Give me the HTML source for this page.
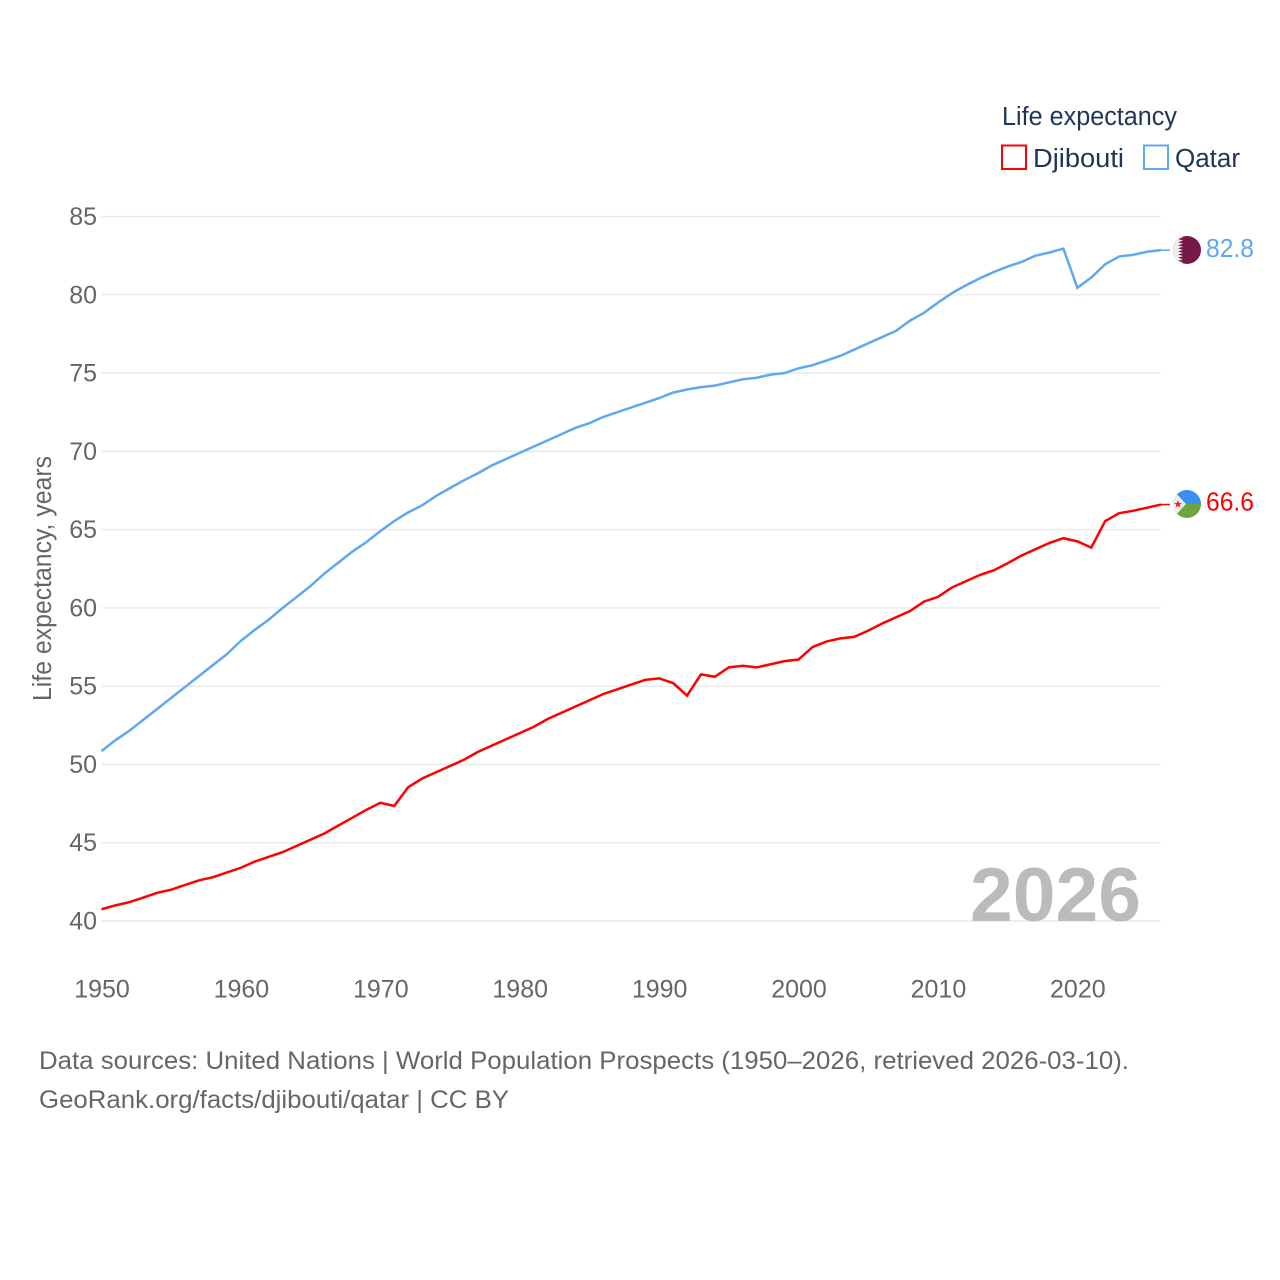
<!DOCTYPE html>
<html lang="en">
<head>
<meta charset="utf-8">
<title>Life expectancy: Djibouti and Qatar</title>
<style>
html,body{margin:0;padding:0;background:#fff;}
svg{display:block;}
text{font-family:"Liberation Sans",sans-serif;}
</style>
</head>
<body>
<svg id="chart" xmlns="http://www.w3.org/2000/svg" width="1280" height="1280" viewBox="0 0 1280 1280">
  <defs>
    <clipPath id="flag-clip-qatar"><circle cx="1187" cy="250" r="14"></circle></clipPath>
    <clipPath id="flag-clip-djibouti"><circle cx="1187" cy="504" r="14"></circle></clipPath>
  </defs>
  <rect x="0" y="0" width="1280" height="1280" fill="#ffffff"></rect>
  <g id="grid"></g>
  <g id="y-ticks"></g>
  <g id="x-ticks"></g>
  <text transform="translate(51,701) rotate(-90)" font-size="25.5" fill="#666666" textLength="245" lengthAdjust="spacingAndGlyphs">Life expectancy, years</text>
  <text x="970" y="921" font-size="76" font-weight="700" fill="#bbbbbb" textLength="171" lengthAdjust="spacingAndGlyphs">2026</text>
  <g id="series"></g>

  <g clip-path="url(#flag-clip-qatar)">
    <rect x="1173" y="236" width="28" height="28" fill="#76184a"></rect>
    <polygon fill="#eeeeee" points="1173,236 1178,236 1183,237.5 1178,239 1183,240.6 1178,242.1 1183,243.7 1178,245.2 1183,246.8 1178,248.3 1183,249.9 1178,251.4 1183,253 1178,254.5 1183,256.1 1178,257.6 1183,259.2 1178,260.7 1183,262.3 1178,264 1173,264"></polygon>
  </g>
  <text x="1206" y="257" font-size="26" fill="#5fa8f0" textLength="48" lengthAdjust="spacingAndGlyphs">82.8</text>

  <g clip-path="url(#flag-clip-djibouti)">
    <rect x="1173" y="490" width="28" height="14" fill="#3a8ff0"></rect>
    <rect x="1173" y="504" width="28" height="14" fill="#6ea544"></rect>
    <polygon fill="#eeeeee" points="1173,490 1186,504 1173,518"></polygon>
    <polygon fill="#e8202a" points="1178,500 1179,503 1182,503 1179.6,504.8 1180.5,507.6 1178,505.9 1175.5,507.6 1176.4,504.8 1174,503 1177,503"></polygon>
  </g>
  <text x="1206" y="510.5" font-size="26" fill="#ff0000" textLength="48" lengthAdjust="spacingAndGlyphs">66.6</text>

  <g>
    <text x="1002" y="125" font-size="25.5" fill="#1d3557" textLength="175" lengthAdjust="spacingAndGlyphs">Life expectancy</text>
    <rect x="1002" y="145.5" width="24" height="23.5" fill="#ffffff" stroke="#ff0000" stroke-width="2"></rect>
    <text x="1033" y="167" font-size="25.5" fill="#1d3557" textLength="91" lengthAdjust="spacingAndGlyphs">Djibouti</text>
    <rect x="1144" y="145.5" width="24" height="23.5" fill="#ffffff" stroke="#5fa8f0" stroke-width="2"></rect>
    <text x="1175" y="167" font-size="25.5" fill="#1d3557" textLength="65" lengthAdjust="spacingAndGlyphs">Qatar</text>
  </g>

  <g>
    <text x="39" y="1069" font-size="25" fill="#666666" textLength="1090" lengthAdjust="spacingAndGlyphs">Data sources: United Nations | World Population Prospects (1950–2026, retrieved 2026-03-10).</text>
    <text x="39" y="1108" font-size="25" fill="#666666" textLength="470" lengthAdjust="spacingAndGlyphs">GeoRank.org/facts/djibouti/qatar | CC BY</text>
  </g>
</svg>
<script>
const years = [1950,1951,1952,1953,1954,1955,1956,1957,1958,1959,1960,1961,1962,1963,1964,1965,1966,1967,1968,1969,1970,1971,1972,1973,1974,1975,1976,1977,1978,1979,1980,1981,1982,1983,1984,1985,1986,1987,1988,1989,1990,1991,1992,1993,1994,1995,1996,1997,1998,1999,2000,2001,2002,2003,2004,2005,2006,2007,2008,2009,2010,2011,2012,2013,2014,2015,2016,2017,2018,2019,2020,2021,2022,2023,2024,2025,2026];
const djibouti = [40.75,41.0,41.2,41.5,41.8,42.0,42.3,42.6,42.8,43.1,43.4,43.8,44.1,44.4,44.8,45.2,45.6,46.1,46.6,47.1,47.55,47.35,48.55,49.1,49.5,49.9,50.3,50.8,51.2,51.6,52.0,52.4,52.9,53.3,53.7,54.1,54.5,54.8,55.1,55.4,55.5,55.2,54.4,55.75,55.6,56.2,56.3,56.2,56.4,56.6,56.7,57.5,57.85,58.05,58.15,58.55,59.0,59.4,59.8,60.4,60.7,61.3,61.7,62.1,62.4,62.85,63.35,63.75,64.15,64.45,64.25,63.85,65.55,66.05,66.2,66.4,66.6];
const qatar = [50.85,51.55,52.15,52.85,53.55,54.25,54.95,55.65,56.35,57.05,57.9,58.6,59.25,60.0,60.7,61.4,62.2,62.9,63.6,64.2,64.9,65.55,66.1,66.55,67.15,67.65,68.15,68.6,69.1,69.5,69.9,70.3,70.7,71.1,71.5,71.8,72.2,72.5,72.8,73.1,73.4,73.75,73.95,74.1,74.2,74.4,74.6,74.7,74.9,75.0,75.3,75.5,75.8,76.1,76.5,76.9,77.3,77.7,78.35,78.85,79.5,80.1,80.6,81.05,81.45,81.8,82.1,82.5,82.7,82.95,80.45,81.1,81.95,82.45,82.55,82.75,82.85];
const yTickValues = [40,45,50,55,60,65,70,75,80,85];
const xTickValues = [1950,1960,1970,1980,1990,2000,2010,2020];

const SVG_NS = 'http://www.w3.org/2000/svg';
const xScale = year => 101.5 + (year - 1950) * (1161 - 101.5) / 76;
const yScale = value => 921 - (value - 40) * (921 - 216.5) / 45;

const grid = document.getElementById('grid');
const yTicks = document.getElementById('y-ticks');
const xTicks = document.getElementById('x-ticks');
const seriesGroup = document.getElementById('series');

yTickValues.forEach(v => {
  const line = document.createElementNS(SVG_NS, 'line');
  
  
  line.setAttribute('x1', xScale(1950));
  line.setAttribute('x2', xScale(2026));
  line.setAttribute('y1', yScale(v));
  line.setAttribute('y2', yScale(v));
  line.setAttribute('stroke', '#e8e8e8');
  line.setAttribute('stroke-width', '1.3');
  grid.appendChild(line);

  const label = document.createElementNS(SVG_NS, 'text');
  
  
  label.setAttribute('x', 97);
  label.setAttribute('y', yScale(v) + 8.5);
  label.setAttribute('text-anchor', 'end');
  label.setAttribute('font-size', '25');
  label.setAttribute('fill', '#666666');
  label.textContent = v;
  yTicks.appendChild(label);
});

xTickValues.forEach(y => {
  const label = document.createElementNS(SVG_NS, 'text');
  
  
  label.setAttribute('x', xScale(y) + 0.5);
  label.setAttribute('y', 997.5);
  label.setAttribute('text-anchor', 'middle');
  label.setAttribute('font-size', '25');
  label.setAttribute('fill', '#666666');
  label.textContent = y;
  xTicks.appendChild(label);
});

function drawSeries(name, values, color) {
  const path = document.createElementNS(SVG_NS, 'polyline');
  
  
  path.setAttribute('points', values.map((v, i) => xScale(years[i]) + ',' + yScale(v)).join(' '));
  path.setAttribute('fill', 'none');
  path.setAttribute('stroke', color);
  path.setAttribute('stroke-width', '2.5');
  path.setAttribute('stroke-linejoin', 'miter');
  seriesGroup.appendChild(path);

  const lastValue = values[values.length - 1];
  const connector = document.createElementNS(SVG_NS, 'line');
  
  
  connector.setAttribute('x1', xScale(years[years.length - 1]));
  connector.setAttribute('x2', xScale(years[years.length - 1]) + 9);
  connector.setAttribute('y1', yScale(lastValue));
  connector.setAttribute('y2', yScale(lastValue));
  connector.setAttribute('stroke', color);
  connector.setAttribute('stroke-width', '1.5');
  seriesGroup.appendChild(connector);
}
drawSeries('djibouti', djibouti, '#ff0000');
drawSeries('qatar', qatar, '#5fa8f0');
</script>
</body>
</html>
